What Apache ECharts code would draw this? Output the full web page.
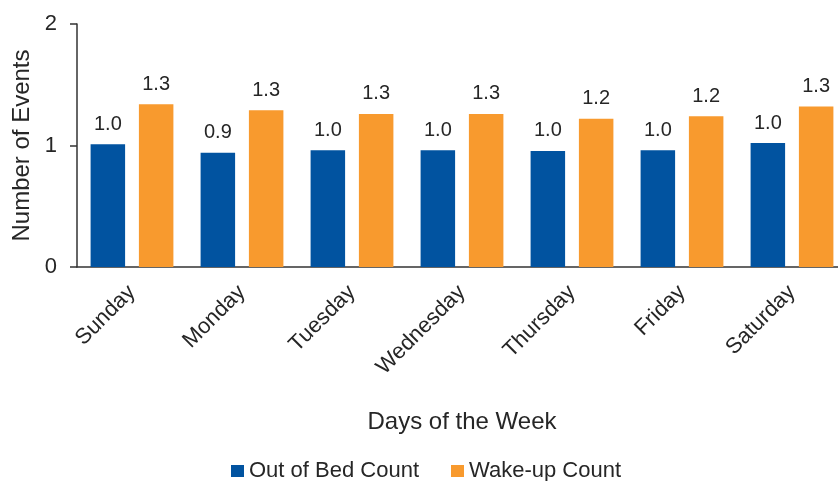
<!DOCTYPE html>
<html>
<head>
<meta charset="utf-8">
<script src="https://cdn.jsdelivr.net/npm/echarts@6/dist/echarts.min.js"></script>
<style>
  html, body { margin: 0; padding: 0; background: #fff; }
  #chart { width: 838px; height: 481px; }
</style>
</head>
<body>
<div id="chart"></div>
<script>
const days = ['Sunday', 'Monday', 'Tuesday', 'Wednesday', 'Thursday', 'Friday', 'Saturday']
const outOfBed = [1.01, 0.94, 0.96, 0.96, 0.955, 0.96, 1.02]
const wakeUp = [1.34, 1.29, 1.26, 1.26, 1.22, 1.24, 1.32]
const yTicks = [0, 1, 2]

const fontFamily = 'Liberation Sans, Arial, sans-serif'
const textColor = '#262626'

// one decimal, rounded half up like the source chart
const fmt = (p) => (Math.round(p.value * 10) / 10).toFixed(1)

const chart = echarts.init(document.getElementById('chart'))
const option = {
  color: ['#0153a0', '#f89a2e'],
  animation: false,
  textStyle: {
    fontFamily: fontFamily,
  },
  grid: {
    left: 77,
    right: -9,
    top: 24,
    bottom: 214,
    containLabel: false,
    outerBoundsMode: 'none',
  },
  legend: {
    left: 226,
    top: 455,
    itemWidth: 13,
    itemHeight: 12,
    itemGap: 32,
    icon: 'rect',
    textStyle: {
      fontSize: 22,
      color: textColor,
      fontFamily: fontFamily,
    },
    data: ['Out of Bed Count', 'Wake-up Count'],
  },
  xAxis: {
    type: 'category',
    data: days,
    name: 'Days of the Week',
    nameLocation: 'middle',
    nameGap: 143,
    nameMoveOverlap: false,
    nameTextStyle: {
      fontSize: 24,
      color: textColor,
    },
    axisLine: {
      lineStyle: {
        color: '#333',
        width: 1.5,
      },
    },
    axisTick: {
      show: false,
    },
    axisLabel: {
      rotate: 45,
      margin: 22,
      fontSize: 22,
      color: textColor,
    },
  },
  yAxis: {
    type: 'value',
    min: yTicks[0],
    max: yTicks[yTicks.length - 1],
    interval: 1,
    name: 'Number of Events',
    nameLocation: 'middle',
    nameGap: 43,
    nameMoveOverlap: false,
    nameTextStyle: {
      fontSize: 24,
      color: textColor,
    },
    axisLine: {
      show: true,
      lineStyle: {
        color: '#333',
        width: 1.5,
      },
    },
    axisTick: {
      show: true,
      length: 7,
      lineStyle: {
        color: '#333',
        width: 1.5,
      },
    },
    axisLabel: {
      margin: 20,
      fontSize: 22,
      color: textColor,
    },
    splitLine: {
      show: false,
    },
  },
  series: [
    {
      name: 'Out of Bed Count',
      type: 'bar',
      data: outOfBed,
      barWidth: 34.5,
      barGap: '40%',
      label: {
        show: true,
        position: 'top',
        distance: 10,
        fontSize: 20,
        color: textColor,
        formatter: fmt,
      },
    },
    {
      name: 'Wake-up Count',
      type: 'bar',
      data: wakeUp,
      barWidth: 34.5,
      label: {
        show: true,
        position: 'top',
        distance: 10,
        fontSize: 20,
        color: textColor,
        formatter: fmt,
      },
    },
  ],
}
chart.setOption(option)
</script>
</body>
</html>
